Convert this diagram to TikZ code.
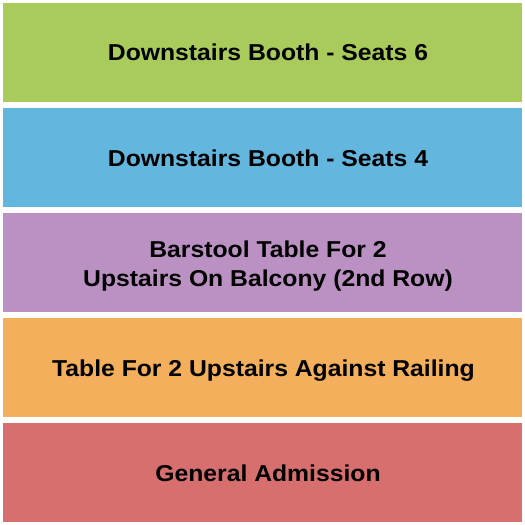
\documentclass[tikz,border=0pt]{standalone}
\usepackage{fontspec}
\setmainfont{Liberation Sans}[FakeStretch=1.075]
\definecolor{booth6}{RGB}{168,203,92}
\definecolor{booth4}{RGB}{99,182,222}
\definecolor{balcony}{RGB}{187,145,196}
\definecolor{railing}{RGB}{243,175,91}
\definecolor{admission}{RGB}{214,111,110}

\begin{document}
\begin{tikzpicture}[x=1pt, y=-1pt,
  band/.style={draw=none, minimum width=519pt, minimum height=99pt, inner sep=0pt},
  tag/.style={anchor=base, inner sep=0pt, font=\fontsize{23}{29}\selectfont\bfseries, text=black}]

	\useasboundingbox (0,0) rectangle (525,525);

	% sections, top to bottom
	\node[band, fill=booth6] (seats6) at (262.5,52.5) {};
	\node[band, fill=booth4] (seats4) at (262.5,157.5) {};
	\node[band, fill=balcony] (balcony) at (262.5,262.5) {};
	\node[band, fill=railing] (railing) at (262.5,367.5) {};
	\node[band, fill=admission] (ga) at (262.5,472.5) {};

	% labels
	\node[tag] (seats6-txt) at (268,60.7) {Downstairs Booth - Seats 6};
	\node[tag] (seats4-txt) at (268,166) {Downstairs Booth - Seats 4};
	\node[tag] (balcony-txt1) at (268,257.3) {Barstool Table For 2};
	\node[tag] (balcony-txt2) at (268,286) {Upstairs On Balcony (2nd Row)};
	\node[tag] (railing-txt) at (263.5,376) {Table For 2 Upstairs Against Railing};
	\node[tag] (ga-txt) at (268,481.7) {General Admission};

\end{tikzpicture}
\end{document}
